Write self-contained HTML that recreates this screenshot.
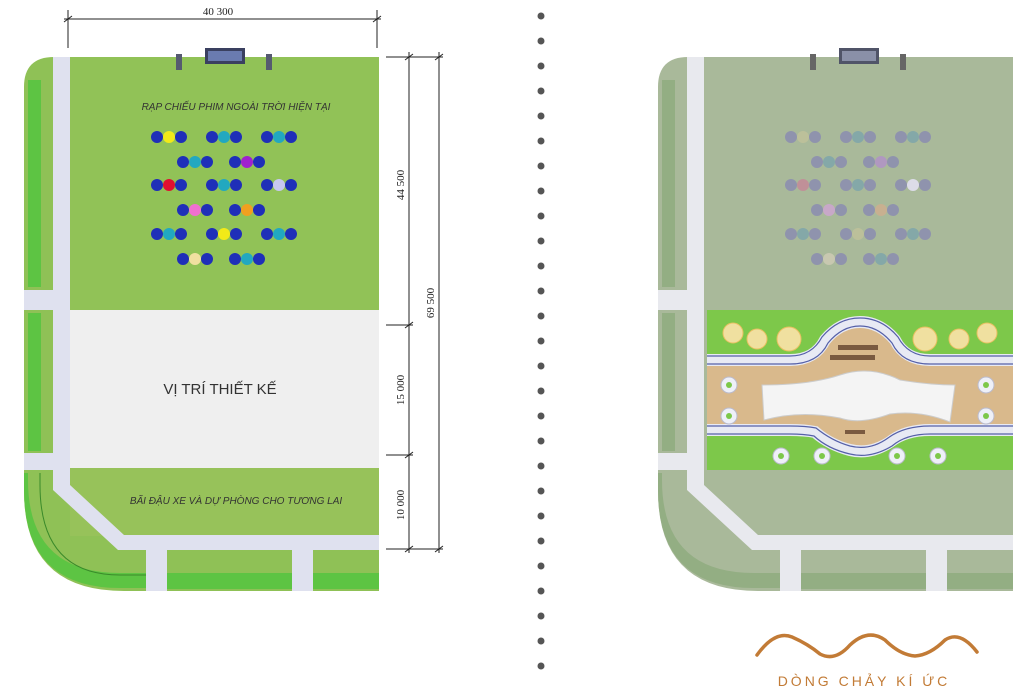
<!DOCTYPE html>
<html><head><meta charset="utf-8"><style>
html,body{margin:0;padding:0;background:#fff;width:1024px;height:699px;overflow:hidden}
svg{display:block}
</style></head><body>
<svg width="1024" height="699" viewBox="0 0 1024 699" xmlns="http://www.w3.org/2000/svg" font-family="Liberation Sans, sans-serif">
<defs>
<g id="trio"><circle cx="-12" cy="0" r="6" fill="#1f2fb8"/><circle cx="12" cy="0" r="6" fill="#1f2fb8"/></g>
<g id="trioR"><circle cx="-12" cy="0" r="6" fill="#8f93ad"/><circle cx="12" cy="0" r="6" fill="#8f93ad"/></g>
</defs>
<!-- LEFT SITE -->
<path d="M54 57 H379 V591 H124 Q24 591 24 491 V87 Q24 57 54 57Z" fill="#8fc156"/>
<rect x="70" y="57" width="309" height="253" fill="#91c257"/>
<rect x="70" y="310" width="309" height="158" fill="#efefef"/>
<rect x="70" y="468" width="309" height="68" fill="#97c25a"/>
<!-- paths -->
<g fill="#dfe1ef">
<rect x="53" y="57" width="17" height="433"/>
<rect x="24" y="290" width="46" height="20"/>
<rect x="24" y="453" width="46" height="17"/>
<polygon points="53,470 70,470 70,485 124,535 379,535 379,550 118,550 53,490"/>
<rect x="146" y="550" width="21" height="41"/>
<rect x="292" y="550" width="21" height="41"/>
</g>
<rect x="28" y="80" width="13" height="207" fill="#5dc443"/>
<rect x="28" y="313" width="13" height="138" fill="#5dc443"/>
<path d="M28 473 V480 Q28 573 120 573 H146 V588 H120 Q24 588 24 490 V473Z" fill="#5dc443"/>
<path d="M40 473 V485 Q40 575 120 575 H146" fill="none" stroke="#3a8a2a" stroke-width="1"/>
<rect x="167" y="573" width="125" height="16" fill="#5dc443"/>
<rect x="313" y="573" width="66" height="16" fill="#5dc443"/>
<!-- screen -->
<rect x="205" y="48" width="40" height="16" fill="#3a4060"/><rect x="208" y="51" width="34" height="10" fill="#6a7bb0"/>
<rect x="176" y="54" width="6" height="16" fill="#555a70"/><rect x="266" y="54" width="6" height="16" fill="#555a70"/>
<text x="236" y="110" font-size="10" font-style="italic" fill="#333" text-anchor="middle">RẠP CHIẾU PHIM NGOÀI TRỜI HIỆN TẠI</text>
<!-- seats -->
<g>
<use href="#trio" x="169" y="137"/><circle cx="169" cy="137" r="6" fill="#f2ea18"/>
<use href="#trio" x="224" y="137"/><circle cx="224" cy="137" r="6" fill="#22a8c0"/>
<use href="#trio" x="279" y="137"/><circle cx="279" cy="137" r="6" fill="#22a8c0"/>
<use href="#trio" x="195" y="162"/><circle cx="195" cy="162" r="6" fill="#22a8c0"/>
<use href="#trio" x="247" y="162"/><circle cx="247" cy="162" r="6" fill="#a020d0"/>
<use href="#trio" x="169" y="185"/><circle cx="169" cy="185" r="6" fill="#e01030"/>
<use href="#trio" x="224" y="185"/><circle cx="224" cy="185" r="6" fill="#22a8c0"/>
<use href="#trio" x="279" y="185"/><circle cx="279" cy="185" r="6" fill="#c8c8f0"/>
<use href="#trio" x="195" y="210"/><circle cx="195" cy="210" r="6" fill="#f070d0"/>
<use href="#trio" x="247" y="210"/><circle cx="247" cy="210" r="6" fill="#f0a020"/>
<use href="#trio" x="169" y="234"/><circle cx="169" cy="234" r="6" fill="#22a8c0"/>
<use href="#trio" x="224" y="234"/><circle cx="224" cy="234" r="6" fill="#f2ea18"/>
<use href="#trio" x="279" y="234"/><circle cx="279" cy="234" r="6" fill="#22a8c0"/>
<use href="#trio" x="195" y="259"/><circle cx="195" cy="259" r="6" fill="#f0e0a0"/>
<use href="#trio" x="247" y="259"/><circle cx="247" cy="259" r="6" fill="#22a8c0"/>
</g>
<text x="220" y="394" font-size="15" fill="#333" text-anchor="middle">VỊ TRÍ THIẾT KẾ</text>
<text x="236" y="504" font-size="10" font-style="italic" fill="#333" text-anchor="middle">BÃI ĐẬU XE VÀ DỰ PHÒNG CHO TƯƠNG LAI</text>
<!-- dimensions -->
<g stroke="#222" stroke-width="1" fill="none">
<line x1="64" y1="19" x2="381" y2="19"/><line x1="68" y1="10" x2="68" y2="48"/><line x1="377" y1="10" x2="377" y2="48"/>
<line x1="64" y1="22" x2="72" y2="16"/><line x1="373" y1="22" x2="381" y2="16"/>
<line x1="409" y1="52" x2="409" y2="553"/><line x1="439" y1="52" x2="439" y2="553"/>
<line x1="386" y1="57" x2="443" y2="57"/><line x1="386" y1="325" x2="413" y2="325"/>
<line x1="386" y1="455" x2="413" y2="455"/><line x1="386" y1="549" x2="443" y2="549"/>
<line x1="405" y1="60" x2="413" y2="54"/><line x1="435" y1="60" x2="443" y2="54"/>
<line x1="405" y1="328" x2="413" y2="322"/><line x1="405" y1="458" x2="413" y2="452"/>
<line x1="405" y1="552" x2="413" y2="546"/><line x1="435" y1="552" x2="443" y2="546"/>
</g>
<g font-family="Liberation Serif, serif" font-size="11" fill="#222">
<text x="218" y="15" text-anchor="middle">40 300</text>
<text transform="translate(404,185) rotate(-90)" text-anchor="middle">44 500</text>
<text transform="translate(404,390) rotate(-90)" text-anchor="middle">15 000</text>
<text transform="translate(404,505) rotate(-90)" text-anchor="middle">10 000</text>
<text transform="translate(434,303) rotate(-90)" text-anchor="middle">69 500</text>
</g>
<!-- dots -->
<g fill="#555">
<circle cx="541" cy="16" r="3.5"/><circle cx="541" cy="41" r="3.5"/><circle cx="541" cy="66" r="3.5"/><circle cx="541" cy="91" r="3.5"/><circle cx="541" cy="116" r="3.5"/><circle cx="541" cy="141" r="3.5"/><circle cx="541" cy="166" r="3.5"/><circle cx="541" cy="191" r="3.5"/><circle cx="541" cy="216" r="3.5"/><circle cx="541" cy="241" r="3.5"/><circle cx="541" cy="266" r="3.5"/><circle cx="541" cy="291" r="3.5"/><circle cx="541" cy="316" r="3.5"/><circle cx="541" cy="341" r="3.5"/><circle cx="541" cy="366" r="3.5"/><circle cx="541" cy="391" r="3.5"/><circle cx="541" cy="416" r="3.5"/><circle cx="541" cy="441" r="3.5"/><circle cx="541" cy="466" r="3.5"/><circle cx="541" cy="491" r="3.5"/><circle cx="541" cy="516" r="3.5"/><circle cx="541" cy="541" r="3.5"/><circle cx="541" cy="566" r="3.5"/><circle cx="541" cy="591" r="3.5"/><circle cx="541" cy="616" r="3.5"/><circle cx="541" cy="641" r="3.5"/><circle cx="541" cy="666" r="3.5"/>
</g>
<!-- RIGHT SITE -->
<path d="M688 57 H1013 V591 H758 Q658 591 658 491 V87 Q658 57 688 57Z" fill="#a9b99a"/>
<g fill="#e8e9ee">
<rect x="687" y="57" width="17" height="433"/>
<rect x="658" y="290" width="46" height="20"/>
<rect x="658" y="453" width="46" height="17"/>
<polygon points="687,470 704,470 704,485 758,535 1013,535 1013,550 752,550 687,490"/>
<rect x="780" y="550" width="21" height="41"/>
<rect x="926" y="550" width="21" height="41"/>
</g>
<rect x="662" y="80" width="13" height="207" fill="#93ae83"/>
<rect x="662" y="313" width="13" height="138" fill="#93ae83"/>
<path d="M662 473 V480 Q662 573 754 573 H780 V588 H754 Q658 588 658 490 V473Z" fill="#93ae83"/>
<rect x="801" y="573" width="125" height="16" fill="#93ae83"/>
<rect x="947" y="573" width="66" height="16" fill="#93ae83"/>
<rect x="839" y="48" width="40" height="16" fill="#505468"/><rect x="842" y="51" width="34" height="10" fill="#8a90a8"/>
<rect x="810" y="54" width="6" height="16" fill="#666"/><rect x="900" y="54" width="6" height="16" fill="#666"/>
<g>
<use href="#trioR" x="803" y="137"/><circle cx="803" cy="137" r="6" fill="#bcc09a"/>
<use href="#trioR" x="858" y="137"/><circle cx="858" cy="137" r="6" fill="#84a8a8"/>
<use href="#trioR" x="913" y="137"/><circle cx="913" cy="137" r="6" fill="#84a8a8"/>
<use href="#trioR" x="829" y="162"/><circle cx="829" cy="162" r="6" fill="#84a8a8"/>
<use href="#trioR" x="881" y="162"/><circle cx="881" cy="162" r="6" fill="#b098c0"/>
<use href="#trioR" x="803" y="185"/><circle cx="803" cy="185" r="6" fill="#c09098"/>
<use href="#trioR" x="858" y="185"/><circle cx="858" cy="185" r="6" fill="#84a8a8"/>
<use href="#trioR" x="913" y="185"/><circle cx="913" cy="185" r="6" fill="#dcdce8"/>
<use href="#trioR" x="829" y="210"/><circle cx="829" cy="210" r="6" fill="#c8a8c8"/>
<use href="#trioR" x="881" y="210"/><circle cx="881" cy="210" r="6" fill="#c8b090"/>
<use href="#trioR" x="803" y="234"/><circle cx="803" cy="234" r="6" fill="#84a8a8"/>
<use href="#trioR" x="858" y="234"/><circle cx="858" cy="234" r="6" fill="#bcc09a"/>
<use href="#trioR" x="913" y="234"/><circle cx="913" cy="234" r="6" fill="#84a8a8"/>
<use href="#trioR" x="829" y="259"/><circle cx="829" cy="259" r="6" fill="#c8c8b0"/>
<use href="#trioR" x="881" y="259"/><circle cx="881" cy="259" r="6" fill="#84a8a8"/>
</g>
<!-- playground -->
<rect x="707" y="310" width="306" height="160" fill="#7dc84a"/>
<path d="M707 360 H790 Q815 360 825 340 Q840 322 860 322 Q880 322 895 340 Q905 360 930 360 H1013 V430 H930 Q905 430 890 442 Q870 455 850 450 Q830 445 815 432 Q805 430 790 430 H707Z" fill="#d9b98c"/>
<g fill="none" stroke="#e8eaf4" stroke-width="12">
<path d="M707 360 H790 Q815 360 825 340 Q840 322 860 322 Q880 322 895 340 Q905 360 930 360 H1013"/>
<path d="M707 430 H790 Q805 430 815 432 Q830 445 850 450 Q870 455 890 442 Q905 430 930 430 H1013"/>
</g>
<g fill="none" stroke="#5560a8" stroke-width="1.2">
<path d="M707 356 H790 Q812 356 822 337 Q838 318 860 318 Q882 318 898 337 Q908 356 930 356 H1013"/>
<path d="M707 364 H790 Q818 364 828 343 Q842 326 860 326 Q878 326 892 343 Q902 364 930 364 H1013"/>
<path d="M707 426 H790 Q806 426 816 428 Q832 441 850 446 Q870 451 888 438 Q904 426 930 426 H1013"/>
<path d="M707 434 H790 Q804 434 814 436 Q828 449 850 454 Q870 459 892 446 Q906 434 930 434 H1013"/>
</g>
<path d="M762 385 Q810 385 840 375 Q870 365 900 380 Q930 385 955 385 L950 422 Q920 410 890 414 Q860 425 840 418 Q800 410 764 420Z" fill="#f4f4f4" stroke="#ccc"/>
<g fill="#f0e0a0" stroke="#e8c060"><circle cx="733" cy="333" r="10"/><circle cx="757" cy="339" r="10"/><circle cx="789" cy="339" r="12"/><circle cx="925" cy="339" r="12"/><circle cx="959" cy="339" r="10"/><circle cx="987" cy="333" r="10"/></g>
<g fill="#eef0f8" stroke="#bbc"><circle cx="729" cy="385" r="8"/><circle cx="729" cy="416" r="8"/><circle cx="986" cy="385" r="8"/><circle cx="986" cy="416" r="8"/><circle cx="781" cy="456" r="8"/><circle cx="822" cy="456" r="8"/><circle cx="897" cy="456" r="8"/><circle cx="938" cy="456" r="8"/></g>
<g fill="#7dc84a"><circle cx="729" cy="385" r="3"/><circle cx="729" cy="416" r="3"/><circle cx="986" cy="385" r="3"/><circle cx="986" cy="416" r="3"/><circle cx="781" cy="456" r="3"/><circle cx="822" cy="456" r="3"/><circle cx="897" cy="456" r="3"/><circle cx="938" cy="456" r="3"/></g>
<g fill="#7a5a40"><rect x="838" y="345" width="40" height="5"/><rect x="830" y="355" width="45" height="5"/><rect x="845" y="430" width="20" height="4"/></g>
<!-- logo -->
<path d="M757 655 Q775 630 792 637 Q808 644 820 654 Q835 662 850 645 Q868 628 885 640 Q900 655 915 656 Q930 655 945 640 Q960 630 977 652" fill="none" stroke="#c27b36" stroke-width="3.5" stroke-linecap="round"/>
<text x="864" y="686" font-size="14" letter-spacing="3" fill="#c27b36" text-anchor="middle">DÒNG CHẢY KÍ ỨC</text>
</svg>
</body></html>
